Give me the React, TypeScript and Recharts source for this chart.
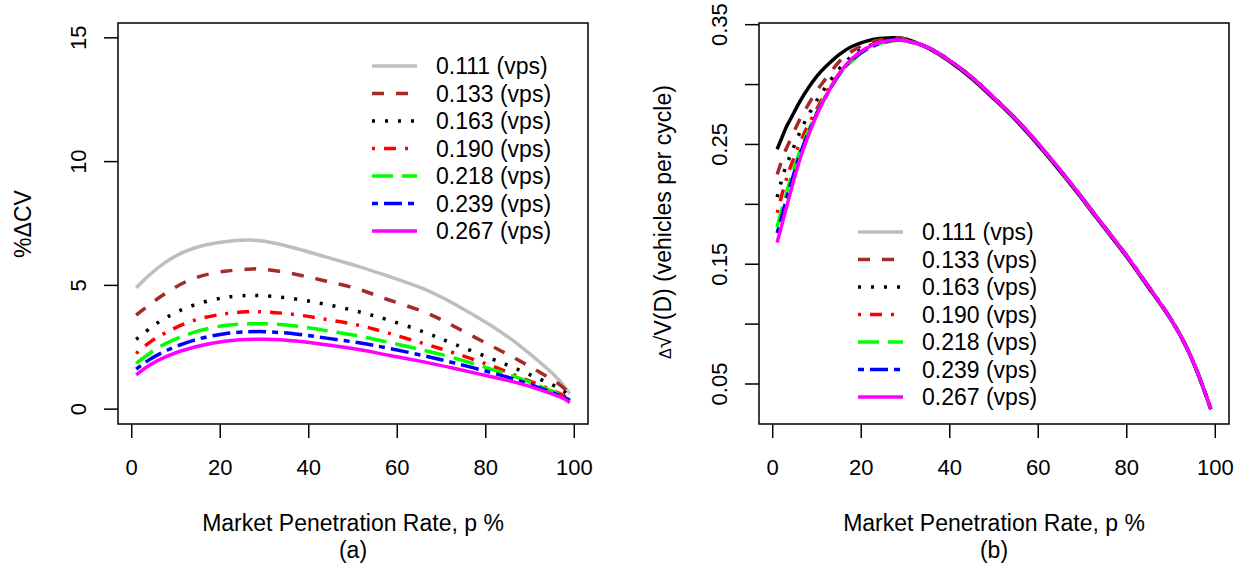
import React from 'react';
import { LineChart, Line, XAxis, YAxis, ReferenceArea, Legend } from 'recharts';

const FONT = '"Liberation Sans", Arial, Helvetica, sans-serif';

// panel (a): %ΔCV vs market penetration rate
const pctA = [1, 4, 8, 14, 21, 26, 30, 37, 44, 51, 58, 66, 73, 81, 88, 94, 97, 99];
const cv111 = [4.9, 5.42, 5.98, 6.5, 6.76, 6.83, 6.78, 6.5, 6.14, 5.78, 5.37, 4.86, 4.24, 3.4, 2.52, 1.62, 1.08, 0.62];
const cv133 = [3.8, 4.22, 4.72, 5.28, 5.57, 5.65, 5.65, 5.45, 5.17, 4.86, 4.42, 3.93, 3.33, 2.58, 1.92, 1.3, 0.95, 0.6];
const cv163 = [2.82, 3.25, 3.72, 4.2, 4.51, 4.59, 4.58, 4.45, 4.23, 3.95, 3.6, 3.12, 2.62, 2.06, 1.55, 1.07, 0.8, 0.52];
const cv190 = [2.25, 2.69, 3.12, 3.58, 3.85, 3.93, 3.93, 3.82, 3.62, 3.4, 3.07, 2.65, 2.26, 1.77, 1.27, 0.84, 0.6, 0.42];
const cv218 = [1.85, 2.25, 2.68, 3.1, 3.38, 3.44, 3.45, 3.36, 3.17, 2.96, 2.7, 2.38, 2.06, 1.63, 1.22, 0.8, 0.57, 0.37];
const cv239 = [1.62, 2.0, 2.38, 2.78, 3.05, 3.12, 3.13, 3.04, 2.87, 2.69, 2.46, 2.16, 1.86, 1.49, 1.12, 0.74, 0.53, 0.35];
const cv267 = [1.38, 1.77, 2.14, 2.5, 2.74, 2.81, 2.82, 2.75, 2.6, 2.42, 2.18, 1.91, 1.64, 1.32, 1.02, 0.68, 0.48, 0.27];

// panel (b): Δ√V(D) (vehicles per cycle)
const pctB = [1, 2, 3, 4, 6, 8, 10, 12, 15, 18, 21, 24, 27, 30, 35, 40, 45, 50, 55, 60, 65, 70, 75, 80, 85, 90, 94, 97, 99];
const dv111 = [0.246, 0.255, 0.264, 0.271, 0.285, 0.297, 0.307, 0.315, 0.325, 0.332, 0.336, 0.3385, 0.339, 0.338, 0.3305, 0.3193, 0.305, 0.288, 0.27, 0.2495, 0.2273, 0.204, 0.18, 0.156, 0.13, 0.1035, 0.0765, 0.0495, 0.0288];
const dv133 = [0.225, 0.236, 0.246, 0.254, 0.27, 0.283, 0.295, 0.305, 0.319, 0.328, 0.334, 0.337, 0.3385, 0.338, 0.331, 0.32, 0.306, 0.289, 0.271, 0.2505, 0.2283, 0.205, 0.181, 0.157, 0.131, 0.104, 0.077, 0.05, 0.029];
const dv163 = [0.206, 0.22, 0.232, 0.241, 0.259, 0.274, 0.287, 0.298, 0.313, 0.324, 0.331, 0.335, 0.337, 0.337, 0.331, 0.32, 0.306, 0.289, 0.271, 0.2505, 0.2283, 0.205, 0.181, 0.157, 0.131, 0.104, 0.077, 0.05, 0.029];
const dv190 = [0.193, 0.207, 0.22, 0.231, 0.25, 0.266, 0.28, 0.293, 0.309, 0.321, 0.329, 0.334, 0.3365, 0.3368, 0.331, 0.32, 0.306, 0.289, 0.271, 0.2505, 0.2283, 0.205, 0.181, 0.157, 0.131, 0.104, 0.077, 0.05, 0.029];
const dv218 = [0.181, 0.195, 0.208, 0.221, 0.243, 0.261, 0.277, 0.291, 0.308, 0.32, 0.329, 0.334, 0.3365, 0.3366, 0.331, 0.32, 0.306, 0.289, 0.271, 0.2505, 0.2283, 0.205, 0.181, 0.157, 0.131, 0.104, 0.077, 0.05, 0.029];
const dv239 = [0.176, 0.189, 0.203, 0.216, 0.24, 0.259, 0.276, 0.29, 0.3085, 0.321, 0.329, 0.334, 0.337, 0.3365, 0.331, 0.32, 0.306, 0.289, 0.271, 0.2505, 0.2283, 0.205, 0.181, 0.157, 0.131, 0.104, 0.077, 0.05, 0.029];
const dv267 = [0.168, 0.182, 0.196, 0.21, 0.236, 0.257, 0.275, 0.29, 0.309, 0.322, 0.33, 0.335, 0.337, 0.3365, 0.331, 0.32, 0.306, 0.289, 0.271, 0.2507, 0.2285, 0.205, 0.181, 0.157, 0.131, 0.104, 0.077, 0.05, 0.029];

const xTicks = [0, 20, 40, 60, 80, 100];
const yTicksA = [0, 5, 10, 15];
const yTicksB = [0.05, 0.1, 0.15, 0.2, 0.25, 0.3, 0.35];
const yLabelsB = ['0.05', '0.15', '0.25', '0.35'];

type Series = { key: string; label: string; color: string; dash?: string };

const SERIES: Series[] = [
  { key: 's111', label: '0.111 (vps)', color: '#BEBEBE' },
  { key: 's133', label: '0.133 (vps)', color: '#A52A2A', dash: '12 12' },
  { key: 's163', label: '0.163 (vps)', color: '#000000', dash: '3 10' },
  { key: 's190', label: '0.190 (vps)', color: '#FF0000', dash: '3 9 12 9' },
  { key: 's218', label: '0.218 (vps)', color: '#00FF00', dash: '21 9' },
  { key: 's239', label: '0.239 (vps)', color: '#0000FF', dash: '6 6 18 6' },
  { key: 's267', label: '0.267 (vps)', color: '#FF00FF' },
];

const buildRows = (xs: number[], cols: number[][]) =>
  xs.map((p, i) => {
    const row: Record<string, number> = { p };
    SERIES.forEach((s, j) => { row[s.key] = cols[j][i]; });
    return row;
  });

const rowsA = buildRows(pctA, [cv111, cv133, cv163, cv190, cv218, cv239, cv267]);
const rowsB = buildRows(pctB, [dv111, dv133, dv163, dv190, dv218, dv239, dv267]);

const X_DOMAIN: [number, number] = [-3.1, 103.1];
const W = 624;
const H = 565;

const LegendBox = () => (
  <svg width={240} height={200} style={{ display: 'block' }}>
    {SERIES.map((s, i) => {
      const y = 21 + i * 27.5;
      return (
        <g key={s.key}>
          <line x1={12} x2={57} y1={y} y2={y} stroke={s.color} strokeWidth={3.5} strokeDasharray={s.dash} />
          <text x={76} y={y + 8} fontSize={23} fontFamily={FONT} fill="#000">{s.label}</text>
        </g>
      );
    })}
  </svg>
);

interface PanelProps {
  rows: Record<string, number>[];
  yDomain: [number, number];
  yTicks: number[];
  fmt: (v: number) => string | null;
  marginLeft: number;
  marginRight: number;
  legendPos: { left: number; top: number };
  yLabel: React.ReactNode;
  tag: string;
  lineColor?: (s: Series) => string;
}

const Panel: React.FC<PanelProps> = ({ rows, yDomain, yTicks, fmt, marginLeft, marginRight, legendPos, yLabel, tag, lineColor }) => {
  const YTick = (props: any) => {
    const { x, y, payload } = props;
    const txt = fmt(payload.value);
    if (txt === null) return null;
    return (
      <text x={x} y={y} transform={`rotate(-90, ${x}, ${y})`} textAnchor="middle" fontSize={22} fontFamily={FONT} fill="#000">
        {txt}
      </text>
    );
  };

  return (
    <LineChart width={W} height={H} data={rows} margin={{ top: 23, right: marginRight, bottom: 81, left: marginLeft }}>
      <XAxis
        type="number"
        dataKey="p"
        domain={X_DOMAIN}
        allowDataOverflow
        ticks={xTicks}
        interval={0}
        height={60}
        axisLine={false}
        tickSize={14}
        tickMargin={21}
        tickLine={{ stroke: '#000', strokeWidth: 1.5 }}
        tick={{ fontSize: 22, fill: '#000', fontFamily: FONT }}
        label={(props: any) => {
          const vb = props.viewBox || {};
          const cx = vb.x + vb.width / 2;
          return (
            <g>
              <text x={cx} y={531} textAnchor="middle" fontSize={23} fontFamily={FONT} fill="#000">
                Market Penetration Rate, p %
              </text>
              <text x={cx} y={558} textAnchor="middle" fontSize={23} fontFamily={FONT} fill="#000">
                {tag}
              </text>
            </g>
          );
        }}
      />
      <YAxis
        type="number"
        domain={yDomain}
        allowDataOverflow
        ticks={yTicks}
        interval={0}
        width={60}
        axisLine={false}
        tickSize={14}
        tickMargin={18}
        tickLine={{ stroke: '#000', strokeWidth: 1.5 }}
        tick={<YTick />}
        label={() => yLabel}
      />
      {SERIES.map((s) => (
        <Line
          key={s.key}
          type="natural"
          dataKey={s.key}
          name={s.label}
          stroke={lineColor ? lineColor(s) : s.color}
          strokeWidth={3.5}
          strokeDasharray={s.dash}
          dot={false}
          activeDot={false}
          isAnimationActive={false}
        />
      ))}
      <ReferenceArea
        x1={X_DOMAIN[0]}
        x2={X_DOMAIN[1]}
        y1={yDomain[0]}
        y2={yDomain[1]}
        fill="none"
        fillOpacity={0}
        stroke="#000"
        strokeWidth={1.5}
        ifOverflow="visible"
      />
      <Legend
        layout="vertical"
        align="center"
        verticalAlign="middle"
        content={() => <LegendBox />}
        wrapperStyle={{ left: legendPos.left, top: legendPos.top, width: 240, height: 200 }}
      />
    </LineChart>
  );
};

export default function App() {
  return (
    <div style={{ position: 'fixed', left: 0, top: 0, width: 1248, height: 565, background: '#fff' }}>
      <div style={{ position: 'absolute', left: 0, top: 0 }}>
        <Panel
          rows={rowsA}
          yDomain={[-0.6, 15.6]}
          yTicks={yTicksA}
          fmt={(v) => String(v)}
          marginLeft={58}
          marginRight={36}
          legendPos={{ left: 360, top: 45 }}
          tag="(a)"
          yLabel={
            <text x={31} y={224} transform="rotate(-90, 31, 224)" textAnchor="middle" fontSize={23} fontFamily={FONT} fill="#000">
              %ΔCV
            </text>
          }
        />
      </div>
      <div style={{ position: 'absolute', left: W, top: 0 }}>
        <Panel
          rows={rowsB}
          yDomain={[0.0166, 0.3514]}
          yTicks={yTicksB}
          fmt={(v) => (yLabelsB.includes(v.toFixed(2)) ? v.toFixed(2) : null)}
          marginLeft={75}
          marginRight={19}
          legendPos={{ left: 222, top: 211 }}
          tag="(b)"
          lineColor={(s) => (s.key === 's111' ? '#000000' : s.color)}
          yLabel={
            <text x={47} y={222} transform="rotate(-90, 47, 222)" textAnchor="middle" fontSize={23} fontFamily={FONT} fill="#000">
              <tspan fontSize={16}>Δ</tspan>
              <tspan>√V(D) (vehicles per cycle)</tspan>
            </text>
          }
        />
      </div>
    </div>
  );
}
